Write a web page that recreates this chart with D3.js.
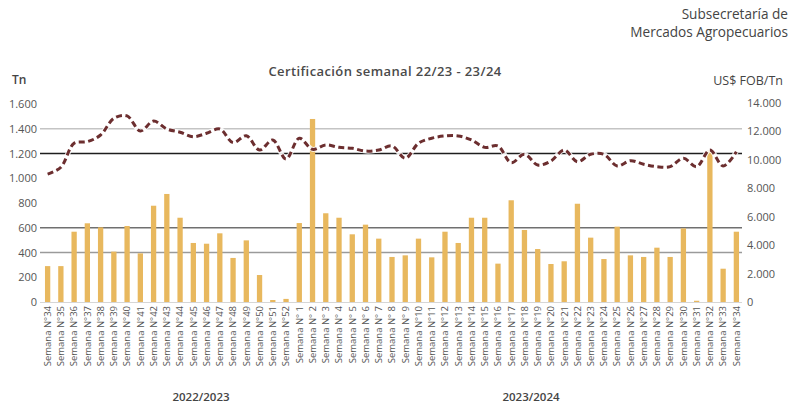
<!DOCTYPE html>
<html>
<head>
<meta charset="utf-8">
<script src="https://cdn.jsdelivr.net/npm/d3@7"></script>
<style>
  body { margin: 0; background: #fff; }
  svg { font-family: "Open Sans", sans-serif; }
</style>
</head>
<body>
<svg id="chart" width="800" height="414"></svg>
<script>
'use strict';

// weeks of campaign 22/23 (from N°34) and 23/24 (up to N°34)
var weeksA = d3.range(34, 53);
var weeksB = d3.range(1, 35);
var weeks = weeksA.map(function(w) { return 'A' + w; }).concat(weeksB.map(function(w) { return 'B' + w; }));
var weekLabels = weeksA.concat(weeksB).map(function(w) { return 'Semana N°' + (w < 10 ? ' ' + w : w); });

// certified volume, Tn (left axis)
var volumeTn = [290, 290, 568, 636, 603, 407, 614, 393, 778, 873,
                681, 477, 471, 555, 356, 498, 218, 16, 25,
                638, 1479, 717, 681, 547, 625, 512, 364, 377, 512,
                361, 568, 477, 681, 681, 310, 822, 582, 428, 307,
                329, 794, 520, 347, 609, 377, 364, 439, 364, 595,
                10, 1228, 269, 568];

// price, US$ FOB/Tn (right axis)
var priceFob = [9000, 9480, 11170, 11280, 11750, 12920, 13090, 12030, 12730, 12170,
                11940, 11630, 11870, 12170, 11210, 11700, 10690, 11400, 10060,
                11520, 10740, 11050, 10880, 10810, 10620, 10690, 10980, 10110, 11170,
                11520, 11680, 11680, 11400, 10880, 10980, 9800, 10390, 9640, 9920,
                10690, 9870, 10390, 10390, 9570, 9940, 9690, 9520, 9520, 10110,
                9520, 10690, 9570, 10570];

var leftTicks = [0, 200, 400, 600, 800, 1000, 1200, 1400, 1600];
var rightTicks = [0, 2000, 4000, 6000, 8000, 10000, 12000, 14000];

// gridlines that show up in the original (left-axis values)
var gridLines = [
    { v: 1400, color: '#c4c4c4' },
    { v: 1200, color: '#1e1e1e' },
    { v: 600, color: '#707070' },
    { v: 400, color: '#9a9a9a' }
];

var svg = d3.select('#chart');
var locale = d3.formatLocale({ decimal: ',', thousands: '.', grouping: [3], currency: ['$', ''] });
var fmt = locale.format(',d');

var x = d3.scaleBand().domain(weeks).range([41, 743]).paddingInner(0.6).paddingOuter(0.3);
var yL = d3.scaleLinear().domain([0, 1600]).range([302, 104]);
var yR = d3.scaleLinear().domain([0, 14000]).range([302, 103]);

// header texts
svg.append('text').attr('x', 788).attr('y', 19).attr('text-anchor', 'end')
    .attr('font-size', 13.6).attr('fill', '#444').text('Subsecretaría de');
svg.append('text').attr('x', 788).attr('y', 37).attr('text-anchor', 'end')
    .attr('font-size', 13.6).attr('fill', '#444').text('Mercados Agropecuarios');
svg.append('text').attr('x', 385).attr('y', 76).attr('text-anchor', 'middle')
    .attr('font-size', 13).attr('font-weight', 600).attr('letter-spacing', 0.4).attr('fill', '#4a4a4a')
    .text('Certificación semanal 22/23 - 23/24');
svg.append('text').attr('x', 12).attr('y', 84).attr('font-size', 12)
    .attr('font-weight', 600).attr('fill', '#444').text('Tn');
svg.append('text').attr('x', 783).attr('y', 85).attr('text-anchor', 'end')
    .attr('font-size', 12.5).attr('fill', '#444').text('US$ FOB/Tn');

// gridlines
svg.append('g').selectAll('line').data(gridLines).enter().append('line')
    .attr('x1', 40).attr('x2', 742)
    .attr('y1', function(d) { return yL(d.v); })
    .attr('y2', function(d) { return yL(d.v); })
    .attr('stroke', function(d) { return d.color; })
    .attr('stroke-width', 1.3);

// baseline
svg.append('line').attr('x1', 40).attr('x2', 742).attr('y1', 302.5).attr('y2', 302.5)
    .attr('stroke', '#d6d6d6').attr('stroke-width', 1);

// bars
svg.append('g').selectAll('rect').data(volumeTn).enter().append('rect')
    .attr('x', function(d, i) { return x(weeks[i]); })
    .attr('width', x.bandwidth())
    .attr('y', function(d) { return yL(d); })
    .attr('height', function(d) { return yL(0) - yL(d); })
    .attr('fill', '#e8b85e');

// price line
var line = d3.line()
    .x(function(d, i) { return x(weeks[i]) + x.bandwidth() / 2; })
    .y(function(d) { return yR(d); })
    .curve(d3.curveCatmullRom.alpha(0.5));

svg.append('path').datum(priceFob).attr('d', line)
    .attr('fill', 'none').attr('stroke', '#ffffff').attr('stroke-opacity', 0.85)
    .attr('stroke-width', 5);
svg.append('path').datum(priceFob).attr('d', line)
    .attr('fill', 'none').attr('stroke', '#6c2e2f').attr('stroke-width', 3)
    .attr('stroke-dasharray', '6,3.5');

// left axis
var gL = svg.append('g').attr('transform', 'translate(40,0)')
    .call(d3.axisLeft(yL).tickValues(leftTicks).tickSize(0).tickPadding(3).tickFormat(fmt));
gL.select('.domain').remove();
gL.selectAll('text').attr('font-size', 11).attr('fill', '#555').attr('font-family', '"Open Sans", sans-serif');

// right axis
var gR = svg.append('g').attr('transform', 'translate(742,0)')
    .call(d3.axisRight(yR).tickValues(rightTicks).tickSize(0).tickPadding(5).tickFormat(fmt));
gR.select('.domain').remove();
gR.selectAll('text').attr('font-size', 11).attr('fill', '#555').attr('font-family', '"Open Sans", sans-serif');

// x axis, rotated week labels
var gX = svg.append('g').attr('transform', 'translate(0,302)')
    .call(d3.axisBottom(x).tickSize(0).tickFormat(function(d, i) { return weekLabels[i]; }));
gX.select('.domain').remove();
gX.selectAll('text')
    .attr('transform', 'rotate(-90)')
    .attr('text-anchor', 'end')
    .attr('x', -4).attr('y', 0).attr('dy', '0.35em')
    .attr('font-size', 9.5).attr('fill', '#555').attr('font-family', '"Open Sans", sans-serif');

// campaign labels
svg.append('text').attr('x', 201).attr('y', 401).attr('text-anchor', 'middle')
    .attr('font-size', 11.5).attr('font-weight', 600).attr('fill', '#444').text('2022/2023');
svg.append('text').attr('x', 531).attr('y', 401).attr('text-anchor', 'middle')
    .attr('font-size', 11.5).attr('font-weight', 600).attr('fill', '#444').text('2023/2024');
</script>
</body>
</html>
